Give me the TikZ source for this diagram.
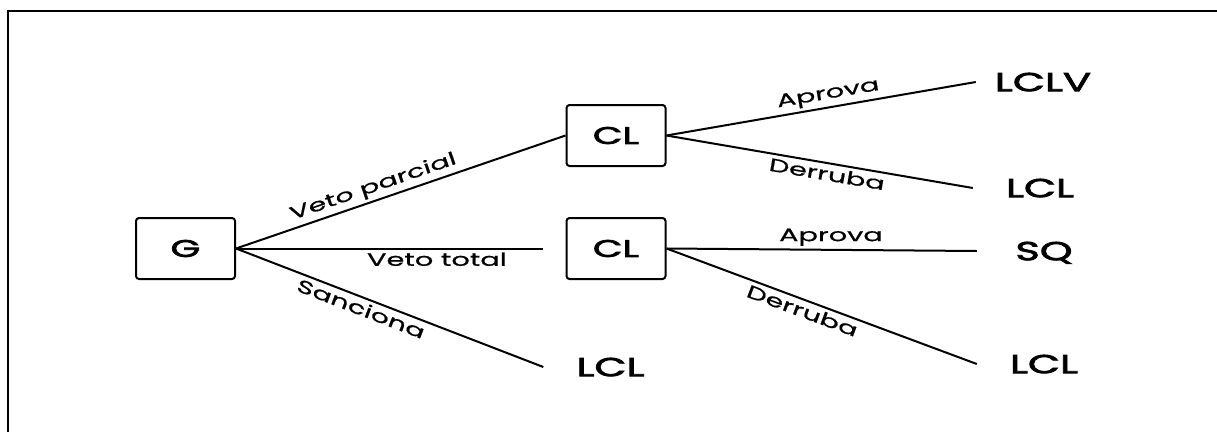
\documentclass[tikz,border=0pt]{standalone}
\usepackage{fontspec}
\setmainfont{Poppins}[FakeStretch=1.6, FakeBold=0.8]
\newfontfamily\termfont{Poppins}[FakeStretch=1.6, FakeBold=3]
\begin{document}
\begin{tikzpicture}[x=1pt,y=-1pt,
  box/.style={draw, line width=2pt, rounded corners=3pt, minimum width=99pt, minimum height=61pt, inner sep=0pt, font=\fontsize{24}{24}\selectfont\termfont},
  term/.style={inner sep=0pt, text depth=0pt, minimum width=134pt, font=\fontsize{26}{26}\selectfont\termfont},
  edge/.style={line width=2pt},
  lab/.style={font=\fontsize{18}{18}\selectfont, inner sep=3pt}]
\useasboundingbox (0,0) rectangle (1217,431);
\clip (0,0) rectangle (1217,431);
\draw[line width=2.5pt] (8,445) -- (8,11) -- (1230,11);
\node[box] (G) at (185.5,248.5) {G};
\node[box] (CL1) at (616,135.5) {CL};
\node[box] (CL2) at (616,248.5) {CL};
\node[term] (T0) at (610.5,367) {LCL};
\node[term] (T1) at (1043,82) {LCLV};
\node[term] (T2) at (1040,188) {LCL};
\node[term] (T3) at (1044,251) {SQ};
\node[term] (T4) at (1044,364) {LCL};
\draw[edge] (G.east) -- node[lab, sloped, above, pos=0.43] {Veto parcial} (CL1.west);
\draw[edge, shorten >=23pt] (G.east) -- node[lab, below, pos=0.61] {Veto total} (CL2.west);
\draw[edge] (G.east) -- node[lab, sloped, below, pos=0.42] {Sanciona} (T0.west);
\draw[edge] (CL1.east) -- node[lab, sloped, above, pos=0.53] {Aprova} (T1.west);
\draw[edge] (CL1.east) -- node[lab, sloped, below, pos=0.53] {Derruba} (T2.west);
\draw[edge] (CL2.east) -- node[lab, above, pos=0.53] {Aprova} (T3.west);
\draw[edge] (CL2.east) -- node[lab, sloped, below, pos=0.45] {Derruba} (T4.west);
\end{tikzpicture}
\end{document}
